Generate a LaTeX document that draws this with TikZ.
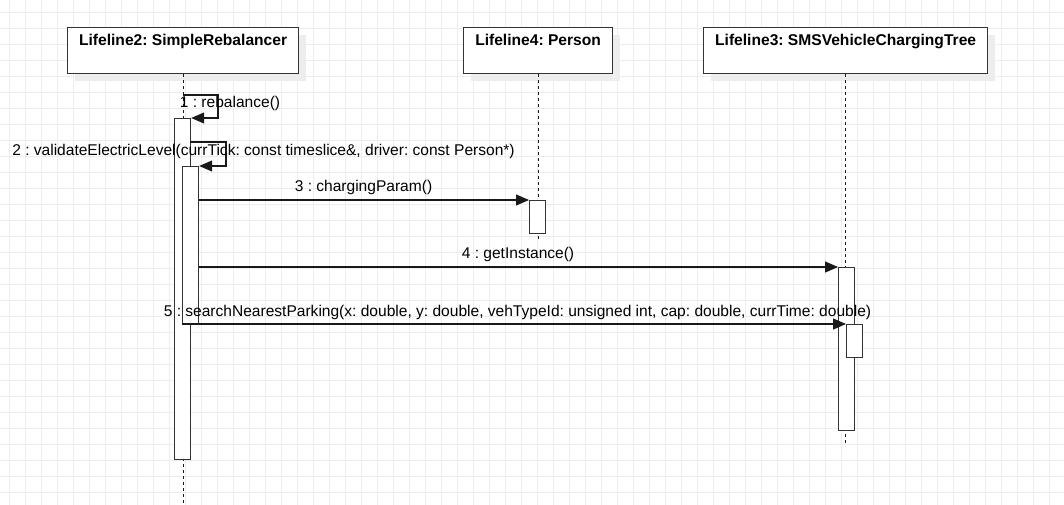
\documentclass[tikz,border=0pt]{standalone}
\usepackage{fontspec}
\setmainfont{Liberation Sans}
\usetikzlibrary{arrows.meta}
\frenchspacing
\begin{document}
\begin{tikzpicture}[x=1pt,y=-1pt,
  gridline/.style={draw=black!7, line width=0.9pt},
  headbox/.style={draw=black!80, fill=white, line width=1.2pt, minimum width=#1, minimum height=46pt, inner sep=0pt, anchor=north west},
  shadowbox/.style={fill=black!7, draw=none, minimum width=#1, minimum height=46pt, inner sep=0pt, anchor=north west},
  headtext/.style={font=\fontsize{15.6}{18}\selectfont\bfseries, anchor=base, inner sep=0pt},
  msgtext/.style={font=\fontsize{15.55}{18}\selectfont, anchor=base, inner sep=0pt},
  lifeline/.style={draw=black!90, line width=1.2pt, dash pattern=on 3pt off 3pt},
  actbar/.style={draw=black!80, fill=white, line width=1.2pt, minimum width=16pt, minimum height=#1, inner sep=0pt, anchor=north west},
  msg/.style={draw=black!90, line width=1.2pt, -{Triangle[length=13pt,width=11pt]}}
]
\useasboundingbox (0,0) rectangle (1064,505);
\fill[white] (0,0) rectangle (1064,505);
% grid
\foreach \x in {9,25,...,1064} \draw[gridline] (\x,0) -- (\x,505);
\foreach \y in {12,28,...,505} \draw[gridline] (0,\y) -- (1064,\y);

% shadows
\node[shadowbox=231pt] (s2) at (75,35) {};
\node[shadowbox=149pt] (s4) at (471,35) {};
\node[shadowbox=284pt] (s3) at (711,35) {};

% lifeline heads
\node[headbox=231pt] (L2) at (67,27) {};
\node[headbox=149pt] (L4) at (463,27) {};
\node[headbox=284pt] (L3) at (703,27) {};
\node[headtext] (t2) at ([yshift=-19pt]L2.north) {Lifeline2: SimpleRebalancer};
\node[headtext] (t4) at ([yshift=-19pt]L4.north) {Lifeline4: Person};
\node[headtext] (t3) at ([yshift=-19pt]L3.north) {Lifeline3: SMSVehicleChargingTree};

% lifeline ends
\coordinate (e2) at (L2.south |- 0,505);
\coordinate (e4) at (L4.south |- 0,240);
\coordinate (e3) at (L3.south |- 0,445);
\draw[lifeline] (L2.south) -- (e2);
\draw[lifeline] (L4.south) -- (e4);
\draw[lifeline] (L3.south) -- (e3);

% activation bars
\node[actbar=341pt] (a1) at (174,118) {};
\node[actbar=158pt] (a2) at (182,166) {};
\node[actbar=33pt] (aP) at (529,200) {};
\node[actbar=163pt] (aS) at (838,267) {};
\node[actbar=33pt] (aS2) at (846,324) {};

% self message 1
\coordinate (m1s) at (L2.south |- 0,95);
\coordinate (m1a) at (218,95);
\coordinate (m1b) at (218,118);
\draw[msg] (m1s) -- (m1a) -- (m1b) -- (a1.north east);
\node[msgtext] (l1) at (230,108) {1 : rebalance()};

% self message 2
\coordinate (m2s) at (190,142);
\coordinate (m2a) at (226,142);
\coordinate (m2b) at (226,166);
\draw[msg] (m2s) -- (m2a) -- (m2b) -- (a2.north east);
\node[msgtext] (l2) at (263.5,156) {2 : validateElectricLevel(currTick: const timeslice\&, driver: const Person*)};

% message 3
\draw[msg] (a2.east |- aP.north west) -- (aP.north west);
\node[msgtext] (l3) at (363.5,191) {3 : chargingParam()};

% message 4
\draw[msg] (a2.east |- aS.north west) -- (aS.north west);
\node[msgtext] (l4) at (518,258) {4 : getInstance()};

% message 5
\draw[msg] (a2.west |- aS2.north west) -- (aS2.north west);
\node[msgtext] (l5) at (517.5,316) {5 : searchNearestParking(x: double, y: double, vehTypeId: unsigned int, cap: double, currTime: double)};
\end{tikzpicture}
\end{document}
